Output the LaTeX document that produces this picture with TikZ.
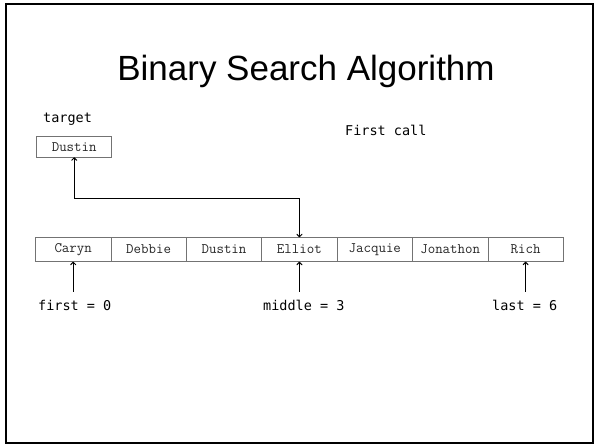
\documentclass[tikz,border=0pt]{standalone}
\usepackage{fontspec}
\usetikzlibrary{arrows.meta}
\newfontfamily\titlefont{Liberation Sans}
\newfontfamily\consfont{DejaVu Sans Mono}
\begin{document}
\begin{tikzpicture}[x=1pt,y=-1pt,
  cell/.style={draw=black!55,line width=0.8pt,minimum width=75.4pt,minimum height=24.4pt,inner sep=0pt,outer sep=0pt,text=black!85,font=\ttfamily\fontsize{14.5}{16}\selectfont},
  lbl/.style={inner sep=0pt,anchor=base west,font=\consfont\fontsize{13.5}{15}\selectfont},
  conn/.style={line width=1pt,-{To[length=3.5pt,width=6pt]}}]
\useasboundingbox (0,0) rectangle (595,445);
\draw[line width=2.2pt] (6,4) rectangle (593,443);
\node[inner sep=0pt,anchor=base,font=\titlefont\fontsize{35}{40}\selectfont] (title) at (306,80) {Binary Search Algorithm};
\node[lbl] (tlabel) at (43,122) {target};
\node[lbl] (fcall) at (345,135) {First call};
\node[cell,minimum width=75pt,minimum height=20.6pt] (target) at (74.2,147) {Dustin};
\foreach \n/\t [count=\i from 0] in {c0/Caryn,c1/Debbie,c2/Dustin,c3/Elliot,c4/Jacquie,c5/Jonathon,c6/Rich}
  \node[cell] (\n) at ({35.5+75.4*(\i+0.5)},249.5) {\t};
\node[lbl] (first) at (38,310) {first = 0};
\node[lbl] (middle) at (263,310) {middle = 3};
\node[lbl] (last) at (492,310) {last = 6};
\coordinate (bend1) at (c3.north |- 0,198.3);
\coordinate (bend2) at (target.south |- 0,198.3);
\draw[line width=1pt,{To[length=3.5pt,width=6pt]}-{To[length=3.5pt,width=6pt]}] (target.south) -- (bend2) -- (bend1) -- (c3.north);
\coordinate (fa) at (c0.south |- 0,291.7);
\coordinate (ma) at (c3.south |- 0,291.7);
\coordinate (la) at (c6.south |- 0,291.7);
\draw[conn] (fa) -- (c0.south);
\draw[conn] (ma) -- (c3.south);
\draw[conn] (la) -- (c6.south);
\end{tikzpicture}
\end{document}
